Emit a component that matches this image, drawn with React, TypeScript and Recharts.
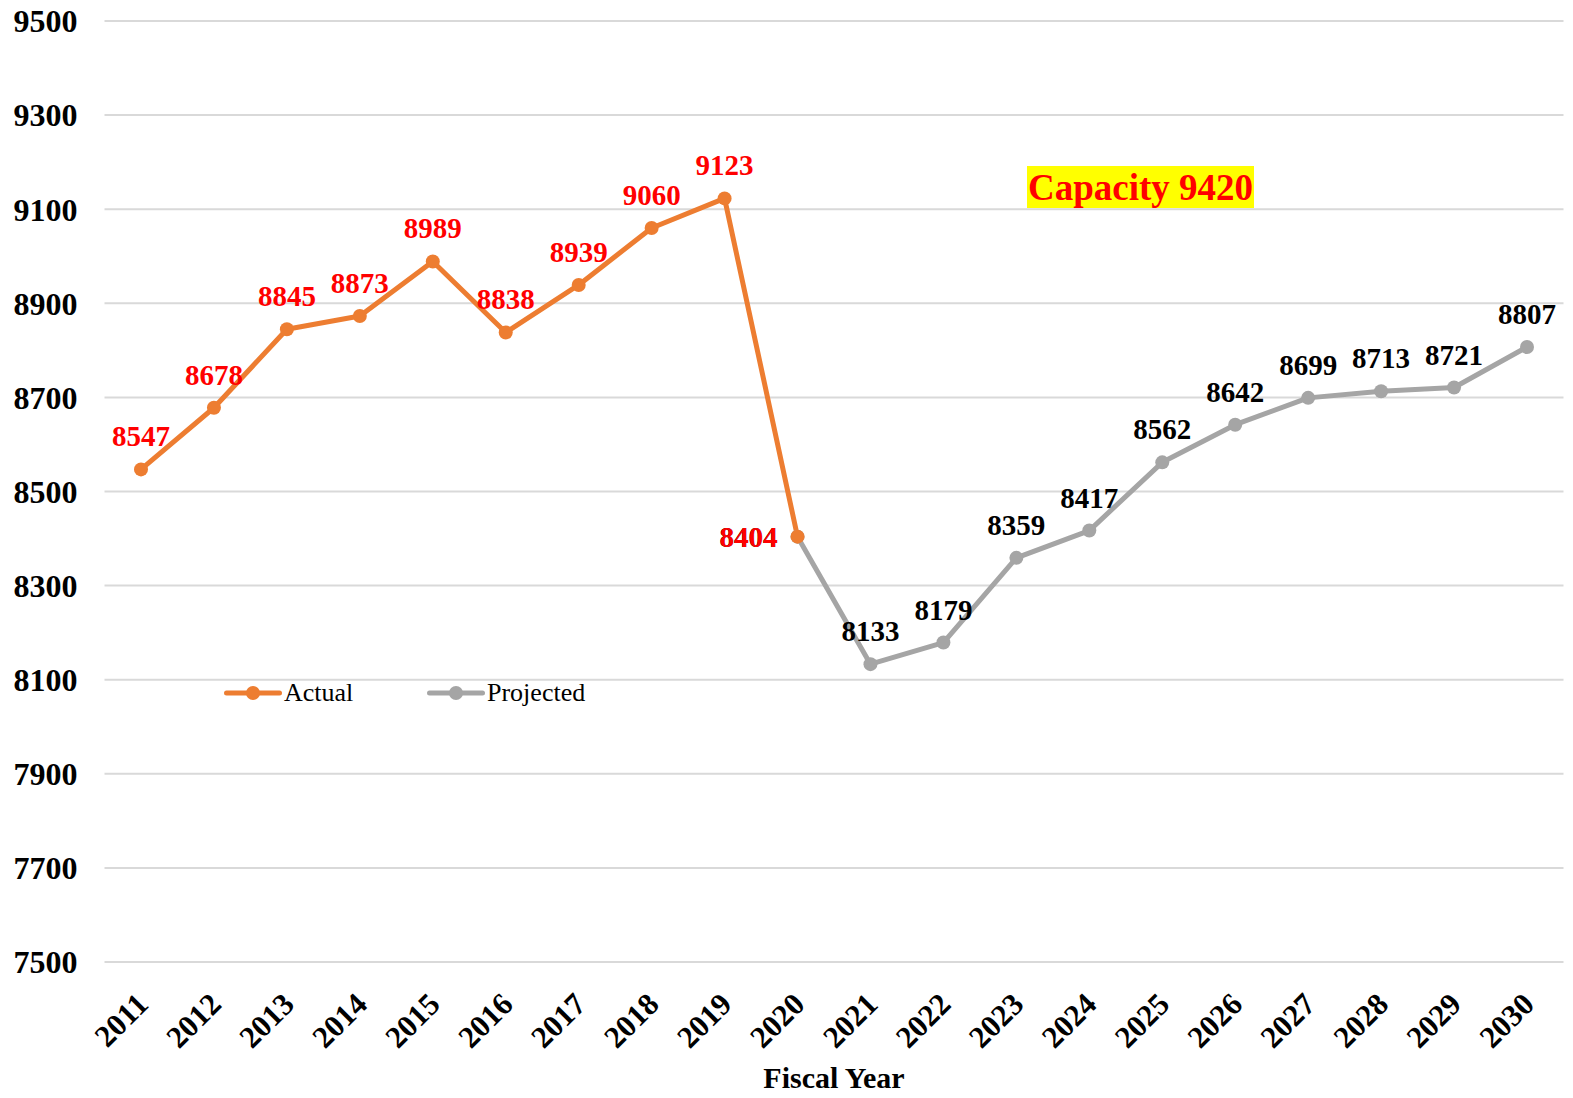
import React from 'react';
import {
  LineChart, Line, XAxis, YAxis, CartesianGrid, Legend, LabelList, Customized,
} from 'recharts';

// fiscal years on the category axis
const years = [
  '2011', '2012', '2013', '2014', '2015', '2016', '2017', '2018', '2019', '2020',
  '2021', '2022', '2023', '2024', '2025', '2026', '2027', '2028', '2029', '2030',
];
// actual enrollment 2011-2020
const actual = [8547, 8678, 8845, 8873, 8989, 8838, 8939, 9060, 9123, 8404];
// projected 2020-2030 (starts from the last actual point)
const projected = [8404, 8133, 8179, 8359, 8417, 8562, 8642, 8699, 8713, 8721, 8807];
const yTicks = [7500, 7700, 7900, 8100, 8300, 8500, 8700, 8900, 9100, 9300, 9500];
const capacityText = 'Capacity 9420';

const ORANGE = '#ED7D31';
const GRAY = '#A5A5A5';
const FONT = '"Liberation Serif", "Times New Roman", serif';

const data = years.map((y, i) => ({
  year: y,
  actual: i < actual.length ? actual[i] : null,
  projected: i >= actual.length - 1 ? projected[i - (actual.length - 1)] : null,
}));

const XTick = (props: any) => {
  const { x, y, payload } = props;
  return (
    <g transform={`translate(${x + 9},${y + 44})`}>
      <text transform="rotate(-45)" textAnchor="end" fontFamily={FONT} fontWeight="bold" fontSize={31} fill="#000">
        {payload.value}
      </text>
    </g>
  );
};

const makeLabel = (color: string, leftIdx: number) => (props: any) => {
  const { x, y, value, index } = props;
  if (value == null) return null;
  if (index === leftIdx) {
    return (
      <text x={x - 20} y={y + 10} textAnchor="end" fontFamily={FONT} fontWeight="bold" fontSize={29} fill={color}>
        {value}
      </text>
    );
  }
  return (
    <text x={x} y={y - 23} textAnchor="middle" fontFamily={FONT} fontWeight="bold" fontSize={29} fill={color}>
      {value}
    </text>
  );
};

const LegendContent = () => {
  const item = (label: string, color: string, w: number) => (
    <div style={{ display: 'flex', alignItems: 'center', width: w }}>
      <svg width={58} height={16}>
        <line x1={2.5} y1={8} x2={55.5} y2={8} stroke={color} strokeWidth={5} strokeLinecap="round" />
        <circle cx={29} cy={8} r={7} fill={color} />
      </svg>
      <span style={{ fontFamily: FONT, fontSize: 26, color: '#000', marginLeft: 2 }}>{label}</span>
    </div>
  );
  return (
    <div style={{ display: 'flex' }}>
      {item('Actual', ORANGE, 203)}
      {item('Projected', GRAY, 180)}
    </div>
  );
};

const CapacityBox = () => (
  <g>
    <rect x={1027} y={166} width={227} height={42} fill="#FFFF00" />
    <text x={1140.5} y={200} textAnchor="middle" fontFamily={FONT} fontWeight="bold" fontSize={37} fill="#FF0000">
      {capacityText}
    </text>
  </g>
);

export default function App() {
  return (
    <div style={{ position: 'absolute', left: 0, top: 0, background: '#fff' }}>
      <LineChart
        width={1573}
        height={1098}
        data={data}
        margin={{ top: 21, right: 9.5, left: 0, bottom: 0 }}
      >
        <CartesianGrid vertical={false} stroke="#D9D9D9" strokeWidth={2} />
        <XAxis
          dataKey="year"
          axisLine={false}
          tickLine={false}
          tickSize={0}
          tickMargin={0}
          interval={0}
          height={136}
          padding={{ left: 36.5, right: 36.5 }}
          tick={<XTick />}
          label={{
            value: 'Fiscal Year', position: 'insideBottom', offset: 10,
            style: { fontFamily: FONT, fontWeight: 'bold', fontSize: 30, fill: '#000' },
          }}
        />
        <YAxis
          width={104.5}
          domain={[7500, 9500]}
          ticks={yTicks}
          axisLine={false}
          tickLine={false}
          tickSize={0}
          tickMargin={27}
          tick={{ fontFamily: FONT, fontWeight: 'bold', fontSize: 32, fill: '#000' }}
        />
        <Legend
          layout="horizontal"
          verticalAlign="middle"
          align="center"
          content={<LegendContent />}
          wrapperStyle={{ left: 224, top: 678, width: 'auto' }}
        />
        <Line
          type="linear"
          dataKey="projected"
          name="Projected"
          stroke={GRAY}
          strokeWidth={5}
          strokeLinejoin="round"
          dot={{ r: 7, fill: GRAY, stroke: GRAY, strokeWidth: 0 }}
          isAnimationActive={false}
          connectNulls={false}
        >
          <LabelList dataKey="projected" content={makeLabel('#000', 9)} />
        </Line>
        <Line
          type="linear"
          dataKey="actual"
          name="Actual"
          stroke={ORANGE}
          strokeWidth={5}
          strokeLinejoin="round"
          dot={{ r: 7, fill: ORANGE, stroke: ORANGE, strokeWidth: 0 }}
          isAnimationActive={false}
          connectNulls={false}
        >
          <LabelList dataKey="actual" content={makeLabel('#FF0000', 9)} />
        </Line>
        <Customized component={CapacityBox} />
      </LineChart>
    </div>
  );
}
